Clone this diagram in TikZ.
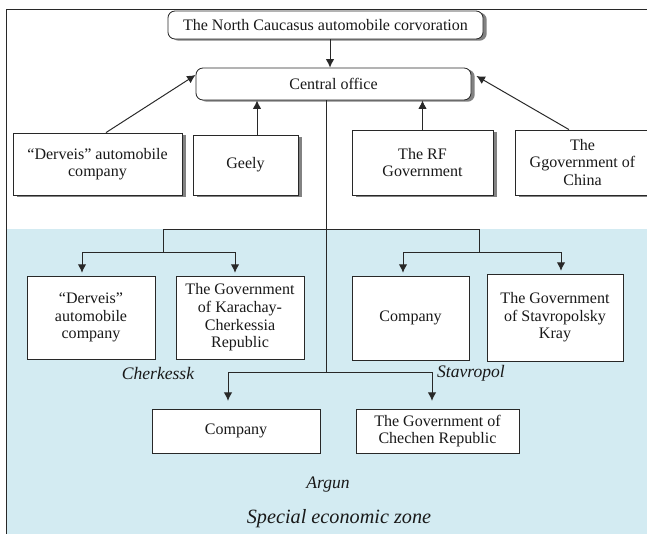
\documentclass[tikz,border=0pt]{standalone}
\usepackage{fontspec}
\setmainfont{Liberation Serif}
\usetikzlibrary{calc,arrows.meta}
\definecolor{zoneclr}{RGB}{211,235,242}
\definecolor{lineclr}{RGB}{40,40,40}
\definecolor{shadeclr}{RGB}{130,130,130}
\tikzset{ %
  ,>={Latex[length=6pt,width=6pt]}
  ,every node/.style={font=\rmfamily\fontsize{11.4}{12.5}\selectfont, text=black!90}
  ,box/.style={draw=lineclr, fill=white, align=center, inner sep=2pt, line width=0.6pt}
  ,topbox/.style={box, preaction={fill=shadeclr, draw=none, transform canvas={xshift=2.6pt, yshift=-1.2pt}}}
  ,rbox/.style={topbox, rounded corners=5pt}
  ,city/.style={font=\rmfamily\itshape\fontsize{12.5}{14}\selectfont}
  ,zone/.style={font=\rmfamily\itshape\fontsize{14.4}{16}\selectfont}
  ,link/.style={draw=lineclr, line width=0.7pt}
}

\begin{document}
\begin{tikzpicture}[x=0.025cm, y=-0.025cm]
      \clip (0,0) rectangle (647,534);
      \fill[white] (0,0) rectangle (647,534);
      \fill[zoneclr] (6.5,229) rectangle (647,534);
      \draw[lineclr, line width=0.6pt] (6,534) -- (6,9) -- (647,9);
      % head office
      \node[rbox, minimum width=7.875cm, minimum height=0.7cm] (corp) at (325.5,25) {The North Caucasus automobile corvoration};
      \node[rbox, minimum width=6.875cm, minimum height=0.8cm] (office) at (333.5,84) {Central office};
      % founders
      \node[topbox, minimum width=4.225cm, minimum height=1.55cm] (derv1) at (97.5,164) {“Derveis” automobile\\company};
      \node[topbox, minimum width=2.625cm, minimum height=1.5cm] (geely) at (245.5,165) {Geely};
      \node[topbox, minimum width=3.525cm, minimum height=1.625cm] (rf) at (422.5,162.5) {The RF\\Government};
      \node[topbox, minimum width=3.375cm, minimum height=1.625cm] (china) at (582.5,162.5) {The\\Ggovernment of\\China};
      % special economic zone
      \node[box, minimum width=3.2cm, minimum height=2.075cm] (derv2) at (91,317.5) {“Derveis”\\automobile\\company};
      \node[box, minimum width=3.2cm, minimum height=2.075cm] (karach) at (240,317.5) {The Government\\of Karachay-\\Cherkessia\\Republic};
      \node[box, minimum width=2.925cm, minimum height=2.1cm] (comp1) at (410.5,318) {Company};
      \node[box, minimum width=3.4cm, minimum height=2.175cm] (stav) at (555,317.5) {The Government\\of Stavropolsky\\Kray};
      \node[box, minimum width=4.2cm, minimum height=1.1cm] (comp2) at (236,431) {Company};
      \node[box, minimum width=4.075cm, minimum height=1.1cm] (chech) at (437.5,431) {The Government of\\Chechen Republic};
      \node[city] (cherk) at (158,373) {Cherkessk};
      \node[city] (stavr) at (471,373) {Stavropol};
      \node[city] (argun) at (328,485) {Argun};
      \node[zone] (sez) at (339,519) {Special economic zone};
      % arrows to the central office
      \coordinate (cs) at ($(corp.south)+(4.5,0)$);
      \draw[link,->] (cs) -- (cs |- office.north);
      \draw[link,->] ($(derv1.north)+(8.5,0)$) -- ($(office.west)+(0,-9)$);
      \coordinate (gly) at ($(geely.north)+(11.5,0)$);
      \draw[link,->] (gly) -- (gly |- office.south);
      \draw[link,->] (rf.north) -- (rf.north |- office.south);
      \draw[link,->] ($(china.north)+(-13.5,0)$) -- ($(office.east)+(5,-8)$);
      % branches
      \coordinate (tr0) at ($(office.south)+(-7.5,0)$);
      \coordinate (tr2) at (326,372);
      \coordinate (jL) at (163,229);
      \coordinate (jLd) at (163,252);
      \coordinate (jR) at (479,229);
      \coordinate (jRd) at (479,252);
      \coordinate (aL1) at (82,252);
      \coordinate (aL2) at (235,252);
      \coordinate (aR1) at (403,252);
      \coordinate (aR2) at (561,252);
      \coordinate (aB1) at (228,372);
      \coordinate (aB2) at (432,372);
      \draw[link] (tr0) -- (tr2);
      \draw[link] (jL) -- (jR) (jL) -- (jLd) (jR) -- (jRd);
      \draw[link] (aL1) -- (aL2) (aR1) -- (aR2) (aB1) -- (aB2);
      \draw[link,->,shorten >=2pt] (aL1) -- (aL1 |- derv2.north);
      \draw[link,->,shorten >=2pt] (aL2) -- (aL2 |- karach.north);
      \draw[link,->,shorten >=2pt] (aR1) -- (aR1 |- comp1.north);
      \draw[link,->,shorten >=2pt] (aR2) -- (aR2 |- stav.north);
      \draw[link,->,shorten >=5.5pt] (aB1) -- (aB1 |- comp2.north);
      \draw[link,->,shorten >=5.5pt] (aB2) -- (aB2 |- chech.north);
    \end{tikzpicture}
\end{document}
